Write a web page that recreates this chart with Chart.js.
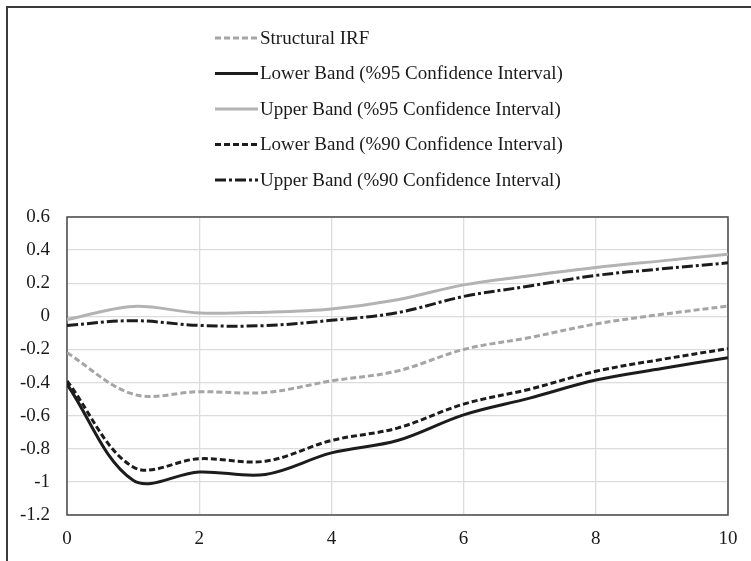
<!DOCTYPE html>
<html>
<head>
<meta charset="utf-8">
<script src="https://cdn.jsdelivr.net/npm/chart.js@4"></script>
<style>
  html, body { margin: 0; padding: 0; background: #fff; }
  #wrap { position: relative; width: 751px; height: 561px; overflow: hidden; }
  #frame {
    position: absolute; left: 6px; top: 6px; width: 800px; height: 600px;
    border-left: 2px solid #3a3a3a; border-top: 2px solid #3a3a3a;
    pointer-events: none;
  }
  canvas { position: absolute; left: 0; top: 0; }
</style>
</head>
<body>
<div id="wrap">
  <canvas id="irfChart" width="751" height="561"></canvas>
  <div id="frame"></div>
</div>
<script>
// Horizons and impulse responses with their confidence bands
const horizons = [0, 1, 2, 3, 4, 5, 6, 7, 8, 9, 10];
const structuralIrf = [-0.22, -0.47, -0.455, -0.46, -0.39, -0.33, -0.2, -0.128, -0.046, 0.012, 0.062];
const lower95 = [-0.41, -0.99, -0.94, -0.955, -0.825, -0.75, -0.595, -0.494, -0.385, -0.315, -0.25];
const upper95 = [-0.02, 0.06, 0.02, 0.025, 0.045, 0.10, 0.19, 0.245, 0.295, 0.335, 0.375];
const lower90 = [-0.39, -0.91, -0.86, -0.875, -0.75, -0.675, -0.53, -0.44, -0.332, -0.26, -0.195];
const upper90 = [-0.055, -0.026, -0.055, -0.056, -0.024, 0.022, 0.12, 0.183, 0.247, 0.287, 0.323];

const seriesNames = [
    'Structural IRF',
    'Lower Band (%95 Confidence Interval)',
    'Upper Band (%95 Confidence Interval)',
    'Lower Band (%90 Confidence Interval)',
    'Upper Band (%90 Confidence Interval)'
];

const fontFamily = '"Liberation Serif", "DejaVu Serif", serif';
const toPoints = vals => vals.map((v, i) => ({ x: horizons[i], y: v }));

const lineStyle = (color, dash) => ({
    borderColor: color,
    backgroundColor: color,
    borderWidth: 3,
    borderDash: dash,
    borderCapStyle: 'butt',
    pointRadius: 0,
    tension: 0.35,
    fill: false
});

// Legend stacked in one column above the plot
const columnLegend = {
    id: 'columnLegend',
    afterDraw(chart) {
        const ctx = chart.ctx;
        ctx.save();
        ctx.font = '19px ' + fontFamily;
        ctx.textBaseline = 'middle';
        chart.data.datasets.forEach((ds, i) => {
            const y = 38 + i * 35.5;
            ctx.strokeStyle = ds.borderColor;
            ctx.lineWidth = ds.borderWidth;
            ctx.setLineDash(ds.borderDash || []);
            ctx.beginPath();
            ctx.moveTo(215, y);
            ctx.lineTo(258, y);
            ctx.stroke();
            ctx.setLineDash([]);
            ctx.fillStyle = '#1a1a1a';
            ctx.fillText(ds.label, 260, y + 1);
        });
        ctx.restore();
    }
};

// Dark box around the plotting area
const plotBox = {
    id: 'plotBox',
    beforeDatasetsDraw(chart) {
        const { ctx, chartArea: a } = chart;
        ctx.save();
        ctx.strokeStyle = '#4a4a4a';
        ctx.lineWidth = 1.5;
        ctx.strokeRect(a.left, a.top, a.right - a.left, a.bottom - a.top);
        ctx.restore();
    }
};

const ctx = document.getElementById('irfChart').getContext('2d');
new Chart(ctx, {
    type: 'line',
    data: {
        datasets: [
            { label: seriesNames[0], data: toPoints(structuralIrf), ...lineStyle('#a5a5a5', [6, 3]) },
            { label: seriesNames[1], data: toPoints(lower95), ...lineStyle('#1c1c1c', []) },
            { label: seriesNames[2], data: toPoints(upper95), ...lineStyle('#b3b3b3', []) },
            { label: seriesNames[3], data: toPoints(lower90), ...lineStyle('#1c1c1c', [6, 3]) },
            { label: seriesNames[4], data: toPoints(upper90), ...lineStyle('#1c1c1c', [11, 3, 3, 3]) }
        ]
    },
    options: {
        responsive: false,
        animation: false,
        layout: { padding: { top: 217, right: 23, left: 0, bottom: 0 } },
        plugins: { legend: { display: false }, tooltip: { enabled: false } },
        scales: {
            x: {
                type: 'linear',
                min: 0,
                max: 10,
                afterFit: s => { s.height = 46; },
                ticks: { stepSize: 2, color: '#1a1a1a', padding: 13, font: { family: fontFamily, size: 19 } },
                grid: { color: '#dcdcdc', lineWidth: 1.3, drawTicks: false },
                border: { display: false }
            },
            y: {
                min: -1.2,
                max: 0.6,
                afterFit: s => { s.width = 67; },
                ticks: {
                    stepSize: 0.2,
                    color: '#1a1a1a',
                    padding: 17,
                    font: { family: fontFamily, size: 19 },
                    callback: v => Math.round(v * 10) / 10
                },
                grid: { color: '#dcdcdc', lineWidth: 1.3, drawTicks: false },
                border: { display: false }
            }
        }
    },
    plugins: [plotBox, columnLegend]
});
</script>
</body>
</html>
